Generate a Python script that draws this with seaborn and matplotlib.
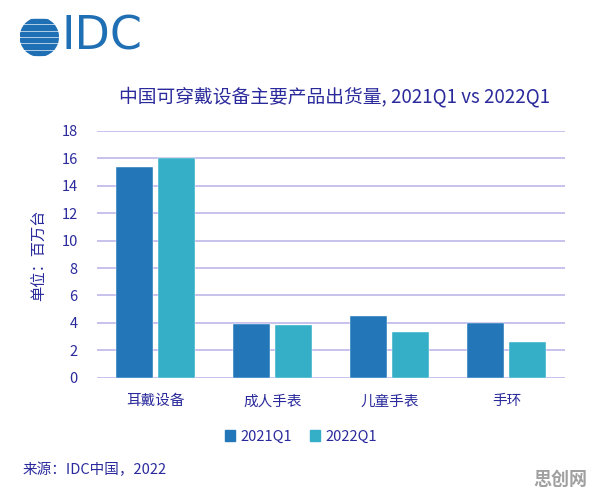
import pandas as pd
import seaborn as sns
import matplotlib.pyplot as plt
from matplotlib.patches import Circle, Rectangle

# 数据
categories = ['耳戴设备', '成人手表', '儿童手表', '手环']
q1_2021 = [15.4, 3.9, 4.5, 4.0]
q1_2022 = [16.0, 3.85, 3.3, 2.6]
periods = ['2021Q1', '2022Q1']

df = pd.DataFrame({
    'cat': categories * 2,
    'period': [periods[0]] * 4 + [periods[1]] * 4,
    'value': q1_2021 + q1_2022,
})

sns.set_theme(style="white")
plt.rcParams['font.family'] = ['Noto Sans CJK SC', 'DejaVu Sans']

navy = '#2a2a9c'
grid_c = '#bdb8ea'
palette = {'2021Q1': '#2377b9', '2022Q1': '#35afc7'}

fig = plt.figure(figsize=(5.96, 4.94), dpi=100)
ax = fig.add_axes([0.163, 0.2354, 0.785, 0.4996])

sns.barplot(data=df, x='cat', y='value', hue='period', palette=palette,
            width=0.72, gap=0.12, ax=ax, legend=False, zorder=3,
            saturation=1, edgecolor='white', linewidth=0.3)

ax.set_ylim(0, 18)
ax.set_xlim(-0.5, 3.5)
ax.set_yticks(range(0, 19, 2))
ax.yaxis.grid(True, color=grid_c, linewidth=1.2, zorder=0)
for s in ax.spines.values():
    s.set_visible(False)
ax.tick_params(axis='both', length=0, colors=navy, labelsize=10.5)
ax.tick_params(axis='x', pad=12)
ax.tick_params(axis='y', pad=14)
ax.set_xlabel('')
ax.set_ylabel('')
fig.text(0.067, 0.483, '单位：百万台', rotation=90, ha='center', va='center',
         color=navy, fontsize=11)

# 标题
fig.text(0.562, 0.803, '中国可穿戴设备主要产品出货量, 2021Q1 vs 2022Q1',
         ha='center', va='center', color=navy, fontsize=13.5)

# 图例
handles = [Rectangle((0, 0), 1, 1, color=palette[p]) for p in periods]
fig.legend(handles, periods, loc='center', bbox_to_anchor=(0.505, 0.116),
           ncol=2, frameon=False, handlelength=0.7, handleheight=0.7,
           handletextpad=0.4, columnspacing=1.2, labelcolor=navy, fontsize=10.5)

# 来源
fig.text(0.037, 0.048, '来源：IDC中国，2022', ha='left', va='center',
         color=navy, fontsize=10.5)
fig.text(0.985, 0.01, '思创网', ha='right', va='bottom', color='#a0a0a0',
         fontsize=13, fontweight='bold')

# IDC 标志
logo_c = '#1f6fb4'
lax = fig.add_axes([0.033, 0.885, 0.066, 0.08])
lax.set_xlim(-1, 1)
lax.set_ylim(-1, 1)
lax.set_axis_off()
circ = Circle((0, 0), 1, transform=lax.transData, facecolor='none', edgecolor='none')
lax.add_patch(circ)
for yy in [-0.8, -0.48, -0.16, 0.16, 0.48, 0.8]:
    r = lax.add_patch(Rectangle((-1, yy - 0.11), 2, 0.22, color=logo_c))
    r.set_clip_path(circ)
fig.text(0.104, 0.925, 'IDC', ha='left', va='center', color=logo_c,
         fontsize=33, family=['DejaVu Sans'])

fig.savefig('out.png', dpi=100)
